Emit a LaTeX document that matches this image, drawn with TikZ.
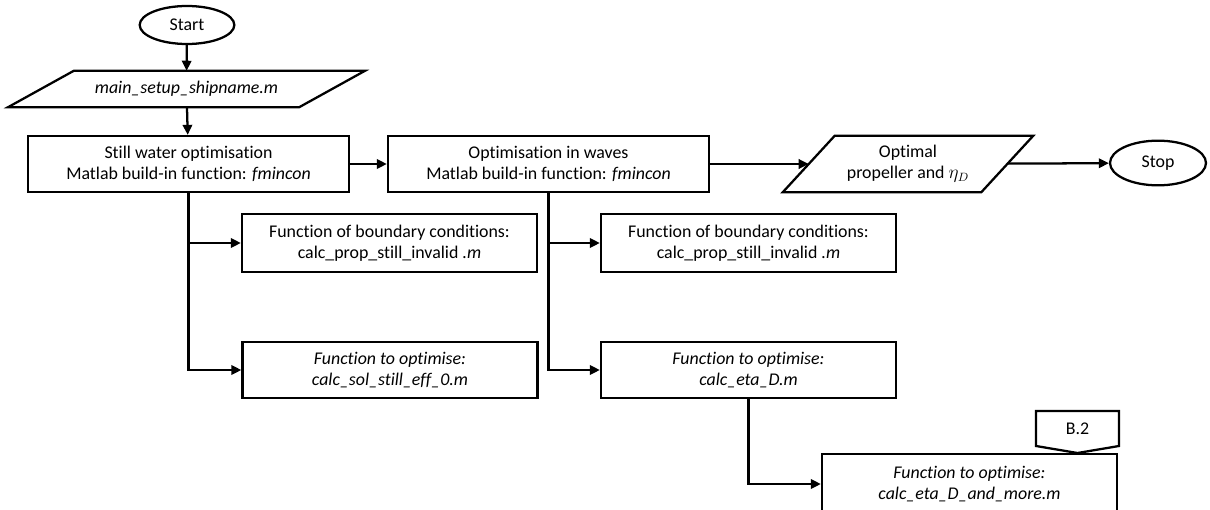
\documentclass[tikz,border=0pt]{standalone}
\usepackage{fontspec}
\setmainfont{Carlito}[Ligatures=NoCommon]
\usetikzlibrary{arrows.meta,shapes.geometric}

\begin{document}
\begin{tikzpicture}[x=0.75pt,y=-0.75pt,
  every node/.style={font=\fontsize{13.4}{15.75}\selectfont, align=center, inner sep=0pt},
  box/.style={draw, line width=1.7pt, minimum height=42pt},
  term/.style={draw, ellipse, line width=1.7pt},
  arr/.style={line width=1.7pt, -{Triangle[length=7.5pt,width=7pt]}},
  edge/.style={line width=1.7pt},
]
\useasboundingbox (0,0) rectangle (1210,510);

% terminals
\node[term, minimum width=71pt, minimum height=28.5pt] (start) at (187,25) {Start};
\node[term, minimum width=72pt, minimum height=33.5pt] (stop) at (1158,163) {Stop};

% input / output parallelograms (node holds the text, outline drawn round it)
\node[minimum width=218pt, minimum height=27pt] (inp) at (186.5,89) {\textit{main\_setup\_shipname.m}};
\draw[edge, line join=miter] ([xshift=24.75pt]inp.north west) -- ([xshift=24.75pt]inp.north east)
  -- ([xshift=-24.75pt]inp.south east) -- ([xshift=-24.75pt]inp.south west) -- cycle;

\node[minimum width=148.5pt, minimum height=42pt] (out) at (908,164) {Optimal\\propeller and $\eta_D$};
\draw[edge, line join=miter] ([xshift=19.5pt]out.north west) -- ([xshift=19.5pt]out.north east)
  -- ([xshift=-19.5pt]out.south east) -- ([xshift=-19.5pt]out.south west) -- cycle;

% optimisation stages
\node[box, minimum width=240.75pt] (still) at (188.5,164)
  {Still water optimisation\\Matlab build-in function: \textit{fmincon}};
\node[box, minimum width=240.75pt] (waves) at (548.5,164)
  {Optimisation in waves\\Matlab build-in function: \textit{fmincon}};

% boundary-condition functions
\node[box, minimum width=221.25pt, minimum height=43pt] (bc1) at (389.5,243)
  {Function of boundary conditions:\\calc\_prop\_still\_invalid \textit{.m}};
\node[box, minimum width=221.25pt, minimum height=43pt] (bc2) at (748.5,243)
  {Function of boundary conditions:\\calc\_prop\_still\_invalid \textit{.m}};

% objective functions
\node[box, minimum width=221.25pt] (obj1) at (390,370)
  {\textit{Function to optimise:}\\\textit{calc\_sol\_still\_eff\_0.m}};
\node[box, minimum width=221.25pt] (obj2) at (748.5,370)
  {\textit{Function to optimise:}\\\textit{calc\_eta\_D.m}};
\node[box, minimum width=221.25pt, minimum height=45pt] (obj3) at (969.5,484)
  {\textit{Function to optimise:}\\\textit{calc\_eta\_D\_and\_more.m}};

% off-page reference
\node (b2) at (1077.5,429) {B.2};
\draw[edge, line join=miter] ([shift={(-41.5,-18)}]b2.center) -- ([shift={(41.5,-18)}]b2.center)
  -- ([shift={(41.5,17)}]b2.center) -- ([shift={(0,24)}]b2.center)
  -- ([shift={(-41.5,17)}]b2.center) -- cycle;

% main flow
\draw[arr] (start) -- (inp);
\draw[arr] (inp) -- (still);
\draw[arr] (still) -- (waves);
\draw[arr] (waves) -- (out);
\draw[arr] (out) -- (stop);

% branches
\draw[arr] (still.south) |- (bc1.west);
\draw[arr] (still.south) |- (obj1.west);
\draw[arr] (waves.south) |- (bc2.west);
\draw[arr] (waves.south) |- (obj2.west);
\draw[arr] (obj2.south) |- (obj3.west);
\end{tikzpicture}
\end{document}
